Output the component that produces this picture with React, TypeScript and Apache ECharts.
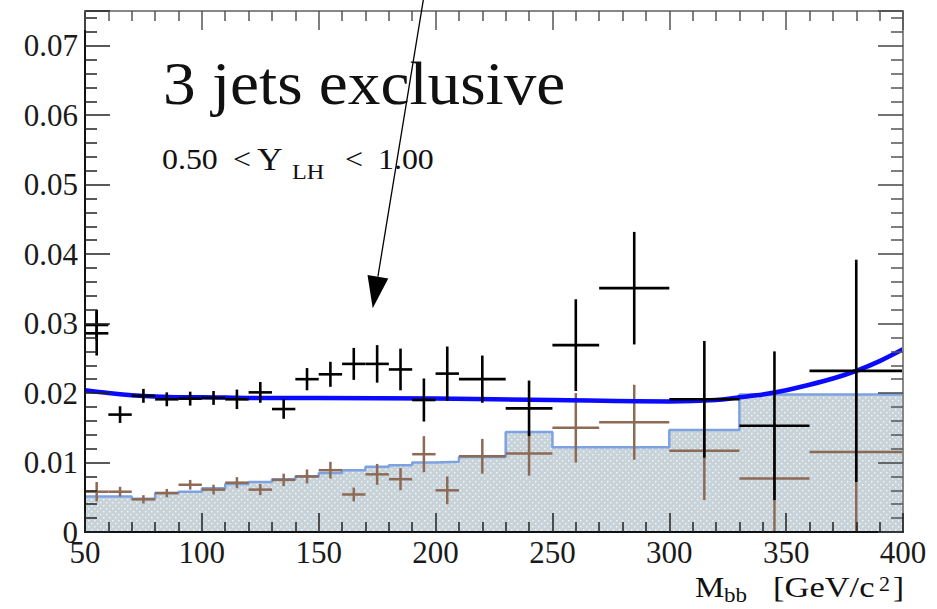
import React, { useEffect, useRef } from "react";
import * as echarts from "echarts";

// ---- data ----
const histEdges = [50, 60, 70, 80, 90, 100, 110, 120, 130, 140, 150, 160, 170, 180, 190, 200, 210, 230, 250, 300, 330, 400];
const histValues = [0.0051, 0.0051, 0.0048, 0.0056, 0.0058, 0.0063, 0.0069, 0.0072, 0.0076, 0.008, 0.0085, 0.0089, 0.0094, 0.0096, 0.01, 0.0101, 0.0108, 0.0144, 0.0122, 0.0147, 0.0198];

const mcX = [55, 65, 75, 85, 95, 105, 115, 125, 135, 145, 155, 165, 175, 185, 195, 205, 220, 240, 260, 285, 315, 345, 380];
const mcXErr = [5, 5, 5, 5, 5, 5, 5, 5, 5, 5, 5, 5, 5, 5, 5, 5, 10, 10, 10, 15, 15, 15, 20];
const mcY = [0.0058, 0.0058, 0.0047, 0.0056, 0.0068, 0.0061, 0.0071, 0.0061, 0.0075, 0.008, 0.0089, 0.0054, 0.0083, 0.0076, 0.0112, 0.006, 0.0109, 0.0113, 0.015, 0.0158, 0.0117, 0.0077, 0.0115];
const mcYErr = [0.0014, 0.0007, 0.0006, 0.0006, 0.0007, 0.0007, 0.0008, 0.0008, 0.0009, 0.001, 0.0012, 0.001, 0.0015, 0.0016, 0.0026, 0.002, 0.0025, 0.0032, 0.005, 0.0054, 0.0071, 0.008, 0.012];

const dataX = [55, 55, 65, 75, 85, 95, 105, 115, 125, 135, 145, 155, 165, 175, 185, 195, 205, 220, 240, 260, 285, 315, 345, 380];
const dataXErr = [5, 5, 5, 5, 5, 5, 5, 5, 5, 5, 5, 5, 5, 5, 5, 5, 5, 10, 10, 10, 15, 15, 15, 20];
const dataY = [0.0298, 0.0286, 0.0169, 0.0196, 0.0191, 0.0192, 0.0193, 0.0191, 0.0201, 0.0177, 0.022, 0.0227, 0.0242, 0.0242, 0.0234, 0.019, 0.0228, 0.022, 0.0178, 0.0269, 0.0351, 0.0191, 0.0153, 0.0232];
const dataYErr = [0.0022, 0.0032, 0.0012, 0.001, 0.001, 0.001, 0.001, 0.0014, 0.0015, 0.0014, 0.0016, 0.0018, 0.0023, 0.0027, 0.003, 0.0031, 0.0039, 0.0034, 0.004, 0.0066, 0.0081, 0.0084, 0.0107, 0.016];

const fitX = [50, 60, 70, 80, 90, 100, 120, 150, 200, 250, 300, 320, 330, 340, 350, 360, 370, 380, 390, 400];
const fitY = [0.0204, 0.02, 0.0197, 0.0195, 0.0194, 0.0194, 0.0193, 0.0193, 0.0192, 0.019, 0.0188, 0.019, 0.0194, 0.0198, 0.0204, 0.0212, 0.0221, 0.0232, 0.0246, 0.0263];

const xTickLabels = ["50", "100", "150", "200", "250", "300", "350", "400"];
const yTickLabels = ["0", "0.01", "0.02", "0.03", "0.04", "0.05", "0.06", "0.07"];

const arrowTail = [195.2, 0.0775];
const arrowTip = [173.1, 0.0322];

const SERIF = '"Liberation Serif", "DejaVu Serif", serif';

// text piece: [text, left x, cap-centre y, font size, horizontal stretch]
const textPieces: [string, number, number, number, number][] = [
  ["3 jets exclusive", 163, 86.7, 61, 1.07],
  ["0.50", 162, 161, 29, 1.1],
  ["<", 233, 161, 29, 1.1],
  ["Y", 257, 161, 31, 1.15],
  ["LH", 292, 172, 22, 1.1],
  ["<", 345, 161, 29, 1.1],
  ["1.00", 378, 161, 29, 1.1],
  ["M", 695, 588, 30, 1.1],
  ["bb", 724, 596, 20, 1.15],
  ["[GeV/c", 773, 588, 30, 1.15],
  ["2", 879, 585, 20, 1.1],
  ["]", 893, 588, 30, 1.1],
];

export default function App() {
  const ref = useRef<HTMLDivElement>(null);
  useEffect(() => {
    const el = ref.current!;
    const chart = echarts.init(el, null, { renderer: "svg" });

    const cv = document.createElement("canvas");
    cv.width = 6;
    cv.height = 6;
    const ctx = cv.getContext("2d")!;
    ctx.fillStyle = "#c7d3d8";
    ctx.fillRect(0, 0, 6, 6);
    ctx.fillStyle = "#f4f7f8";
    ctx.fillRect(1, 1, 1.4, 1.4);
    ctx.fillRect(4, 4, 1.4, 1.4);
    const pattern: any = { image: cv, repeat: "repeat", imageWidth: 6, imageHeight: 6 };

    const histData: number[][] = [];
    for (let i = 0; i < histValues.length; i++) histData.push([histEdges[i], histValues[i]]);
    histData.push([histEdges[histEdges.length - 1], histValues[histValues.length - 1]]);

    const mcData = mcX.map((x, i) => [x, mcY[i], mcXErr[i], mcYErr[i]]);
    const dData = dataX.map((x, i) => [x, dataY[i], dataXErr[i], dataYErr[i]]);
    const fitData = fitX.map((x, i) => [x, fitY[i]]);

    const errRender = (color: string, lw: number) => (params: any, api: any) => {
      const x = api.value(0), y = api.value(1), xe = api.value(2), ye = api.value(3);
      const l = api.coord([x - xe, y]);
      const r = api.coord([x + xe, y]);
      const t = api.coord([x, y + ye]);
      const b = api.coord([x, Math.max(0, y - ye)]);
      return {
        type: "group",
        children: [
          { type: "line", shape: { x1: l[0], y1: l[1], x2: r[0], y2: r[1] }, style: { stroke: color, lineWidth: lw } },
          { type: "line", shape: { x1: t[0], y1: t[1], x2: b[0], y2: b[1] }, style: { stroke: color, lineWidth: lw } },
        ],
      };
    };

    const labelStyle = { fontFamily: SERIF, fontSize: 31, color: "#1a1a1a", lineHeight: 20 };

    chart.setOption({
      animation: false,
      backgroundColor: "#ffffff",
      grid: { left: 85, right: 34, top: 11, bottom: 77, containLabel: false },
      xAxis: [
        {
          type: "value", min: 50, max: 400, interval: 50, position: "bottom", z: 10,
          axisLine: { show: true, onZero: false, lineStyle: { color: "#111", width: 2 } },
          axisTick: { show: true, inside: true, length: 19, lineStyle: { color: "#222", width: 1.5 } },
          minorTick: { show: true, splitNumber: 5, length: 10, lineStyle: { color: "#222", width: 1.5 } },
          splitLine: { show: false },
          axisLabel: { ...labelStyle, margin: 10, formatter: (v: number) => xTickLabels[Math.round((v - 50) / 50)] ?? "" },
        },
        {
          type: "value", min: 50, max: 400, interval: 50, position: "top", z: 10,
          axisLine: { show: true, onZero: false, lineStyle: { color: "#888", width: 2 } },
          axisTick: { show: true, inside: true, length: 19, lineStyle: { color: "#555", width: 1.5 } },
          minorTick: { show: true, splitNumber: 5, length: 10, lineStyle: { color: "#555", width: 1.5 } },
          splitLine: { show: false },
          axisLabel: { show: false },
        },
      ],
      yAxis: [
        {
          type: "value", min: 0, max: 0.075, interval: 0.01, position: "left", z: 10,
          axisLine: { show: true, onZero: false, lineStyle: { color: "#111", width: 2 } },
          axisTick: { show: true, inside: true, length: 25, lineStyle: { color: "#222", width: 1.5 } },
          minorTick: { show: true, splitNumber: 5, length: 12, lineStyle: { color: "#222", width: 1.5 } },
          splitLine: { show: false },
          axisLabel: { ...labelStyle, margin: 7, showMaxLabel: false, formatter: (v: number) => yTickLabels[Math.round(v / 0.01)] ?? "" },
        },
        {
          type: "value", min: 0, max: 0.075, interval: 0.01, position: "right", z: 10,
          axisLine: { show: true, onZero: false, lineStyle: { color: "#888", width: 2 } },
          axisTick: { show: true, inside: true, length: 25, lineStyle: { color: "#444", width: 1.5 } },
          minorTick: { show: true, splitNumber: 5, length: 12, lineStyle: { color: "#555", width: 1.5 } },
          splitLine: { show: false },
          axisLabel: { show: false },
        },
      ],
      series: [
        {
          type: "line", xAxisIndex: 0, yAxisIndex: 0, data: histData, step: "end", symbol: "none", z: 1,
          lineStyle: { color: "#7da2e2", width: 2.5 },
          areaStyle: { color: pattern, opacity: 1 },
        },
        {
          type: "custom", xAxisIndex: 0, yAxisIndex: 0, data: mcData, encode: { x: 0, y: 1 }, clip: true, z: 3,
          renderItem: errRender("#8c6a55", 2.5),
        },
        {
          type: "line", xAxisIndex: 0, yAxisIndex: 0, data: fitData, symbol: "none", smooth: 0.3, z: 4,
          lineStyle: { color: "#0a0aff", width: 4.5 },
        },
        {
          type: "custom", xAxisIndex: 0, yAxisIndex: 0, data: dData, encode: { x: 0, y: 1 }, clip: true, z: 5,
          renderItem: errRender("#000000", 2.6),
        },
      ],
    });

    const p0 = chart.convertToPixel({ xAxisIndex: 0, yAxisIndex: 0 }, arrowTail) as number[];
    const p1 = chart.convertToPixel({ xAxisIndex: 0, yAxisIndex: 0 }, arrowTip) as number[];
    const dx = p1[0] - p0[0], dy = p1[1] - p0[1];
    const len = Math.sqrt(dx * dx + dy * dy);
    const ux = dx / len, uy = dy / len;
    const headLen = 32, headHalf = 10.5;
    const bx = p1[0] - ux * headLen, by = p1[1] - uy * headLen;
    const headPts = [
      [p1[0], p1[1]],
      [bx - uy * headHalf, by + ux * headHalf],
      [bx + uy * headHalf, by - ux * headHalf],
    ];

    const texts = textPieces.map(([text, x, cy, fs, sx]) => ({
      type: "text",
      x,
      y: cy - 0.047 * fs,
      scaleX: sx,
      z: 100,
      style: { text, fontFamily: SERIF, fontSize: fs, fill: "#111", align: "left", verticalAlign: "middle" },
    }));

    chart.setOption({
      graphic: [
        {
          type: "line", z: 100,
          shape: { x1: p0[0], y1: p0[1], x2: bx, y2: by },
          style: { stroke: "#000", lineWidth: 1.3 },
        },
        { type: "polygon", z: 100, shape: { points: headPts }, style: { fill: "#000" } },
        ...texts,
      ],
    });

    return () => chart.dispose();
  }, []);
  return <div ref={ref} style={{ position: "absolute", left: 0, top: 0, width: 937, height: 609 }} />;
}
